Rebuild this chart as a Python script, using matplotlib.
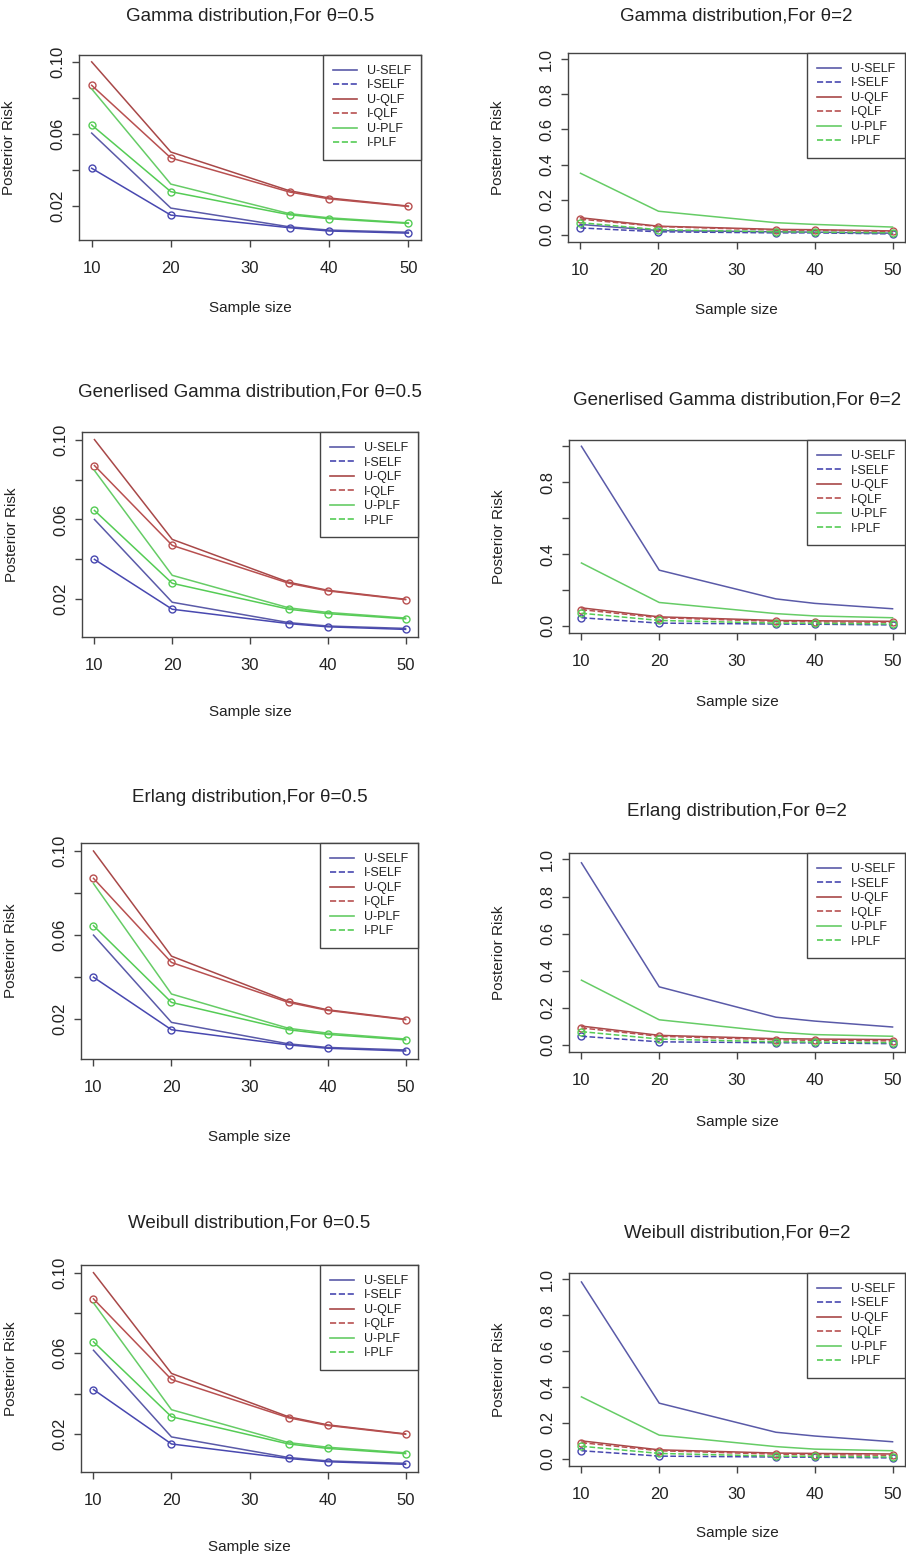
import matplotlib.pyplot as plt
from matplotlib.lines import Line2D

plt.rcParams['font.family'] = ['Liberation Sans', 'DejaVu Sans']

sample_size = [10, 20, 35, 40, 50]
series_labels = ["U-SELF", "I-SELF", "U-QLF", "I-QLF", "U-PLF", "I-PLF"]

# posterior risk, one row per series (same order as series_labels)
gamma_05 = [[0.0605, 0.0189, 0.0085, 0.0067, 0.0055],
            [0.0410, 0.0150, 0.0080, 0.0062, 0.0050],
            [0.1000, 0.0500, 0.0285, 0.0245, 0.0200],
            [0.0870, 0.0467, 0.0278, 0.0240, 0.0198],
            [0.0850, 0.0322, 0.0158, 0.0135, 0.0107],
            [0.0650, 0.0280, 0.0152, 0.0130, 0.0104]]
gamma_2 = [[0.060, 0.025, 0.018, 0.016, 0.010],
           [0.040, 0.018, 0.012, 0.012, 0.006],
           [0.098, 0.050, 0.032, 0.030, 0.023],
           [0.090, 0.048, 0.028, 0.027, 0.020],
           [0.351, 0.135, 0.070, 0.060, 0.045],
           [0.070, 0.030, 0.018, 0.016, 0.012]]
gengamma_05 = [[0.0600, 0.0185, 0.0083, 0.0066, 0.0054],
               [0.0400, 0.0150, 0.0078, 0.0062, 0.0049],
               [0.1000, 0.0500, 0.0285, 0.0245, 0.0200],
               [0.0870, 0.0470, 0.0280, 0.0242, 0.0198],
               [0.0845, 0.0320, 0.0157, 0.0134, 0.0106],
               [0.0645, 0.0280, 0.0150, 0.0128, 0.0102]]
gengamma_2 = [[1.000, 0.310, 0.150, 0.125, 0.095],
              [0.045, 0.015, 0.010, 0.009, 0.005],
              [0.100, 0.050, 0.030, 0.028, 0.025],
              [0.090, 0.045, 0.025, 0.022, 0.020],
              [0.350, 0.130, 0.068, 0.055, 0.045],
              [0.070, 0.030, 0.015, 0.014, 0.010]]
erlang_05 = [[0.0600, 0.0185, 0.0083, 0.0066, 0.0054],
             [0.0400, 0.0150, 0.0078, 0.0062, 0.0049],
             [0.1000, 0.0500, 0.0285, 0.0245, 0.0200],
             [0.0870, 0.0470, 0.0280, 0.0242, 0.0198],
             [0.0845, 0.0320, 0.0157, 0.0134, 0.0106],
             [0.0645, 0.0280, 0.0150, 0.0128, 0.0102]]
erlang_2 = [[0.982, 0.312, 0.148, 0.127, 0.095],
            [0.045, 0.015, 0.010, 0.009, 0.005],
            [0.100, 0.050, 0.032, 0.030, 0.027],
            [0.090, 0.045, 0.026, 0.023, 0.020],
            [0.348, 0.134, 0.068, 0.054, 0.045],
            [0.070, 0.030, 0.015, 0.014, 0.010]]
weibull_05 = [[0.0615, 0.0185, 0.0083, 0.0066, 0.0054],
              [0.0420, 0.0150, 0.0078, 0.0062, 0.0049],
              [0.1000, 0.0500, 0.0285, 0.0245, 0.0200],
              [0.0870, 0.0470, 0.0280, 0.0242, 0.0198],
              [0.0850, 0.0320, 0.0157, 0.0134, 0.0106],
              [0.0657, 0.0285, 0.0150, 0.0128, 0.0102]]
weibull_2 = [[0.985, 0.310, 0.148, 0.127, 0.095],
             [0.045, 0.015, 0.010, 0.009, 0.005],
             [0.100, 0.050, 0.032, 0.030, 0.027],
             [0.090, 0.045, 0.026, 0.023, 0.020],
             [0.345, 0.132, 0.068, 0.054, 0.045],
             [0.070, 0.030, 0.015, 0.014, 0.010]]

colors = ['#5a5aa8', '#4848b0', '#a84848', '#b85050', '#66cc66', '#55cc55']

W, H = 906, 1559
fig = plt.figure(figsize=(W / 100, H / 100), dpi=100)

# title, data, theta=2?, box in pixels (left, top, right, bottom), title y, xlabel y
panels = [
    ("Gamma distribution,For θ=0.5", gamma_05, False, (79, 55, 421, 240), 16, 308),
    ("Gamma distribution,For θ=2", gamma_2, True, (568, 53, 905, 242), 16, 310),
    ("Generlised Gamma distribution,For θ=0.5", gengamma_05, False, (82, 432, 418, 637), 392, 712),
    ("Generlised Gamma distribution,For θ=2", gengamma_2, True, (569, 440, 905, 633), 400, 702),
    ("Erlang distribution,For θ=0.5", erlang_05, False, (81, 843, 418, 1059), 797, 1137),
    ("Erlang distribution,For θ=2", erlang_2, True, (569, 853, 905, 1052), 812, 1122),
    ("Weibull distribution,For θ=0.5", weibull_05, False, (81, 1265, 418, 1472), 1223, 1547),
    ("Weibull distribution,For θ=2", weibull_2, True, (569, 1273, 905, 1466), 1233, 1533),
]

for title, data, big, (l, t, r, b), ty, xy in panels:
    ax = fig.add_axes([l / W, 1 - b / H, (r - l) / W, (b - t) / H])
    for i, vals in enumerate(data):
        if i % 2 == 0:
            ax.plot(sample_size, vals, color=colors[i], lw=1.1)
        else:
            ax.plot(sample_size, vals, color=colors[i], lw=1.1,
                    ls='--' if big else '-', marker='o', ms=5,
                    mfc='none', mew=1.0)

    ax.set_xlim(8.4, 51.6)
    ax.set_xticks([10, 20, 30, 40, 50])
    if big:
        ax.set_ylim(-0.04, 1.035)
        ticks = [0.0, 0.2, 0.4, 0.6, 0.8, 1.0]
        if "Generlised" in title:
            labels = ['0.0', '', '0.4', '', '0.8', '']
        else:
            labels = ['0.0', '0.2', '0.4', '0.6', '0.8', '1.0']
    else:
        ax.margins(x=0.04, y=0.04)
        ticks = [0.02, 0.04, 0.06, 0.08, 0.10]
        labels = ['0.02', '', '0.06', '', '0.10']
    ax.set_yticks(ticks)
    ax.set_yticklabels(labels)

    ax.tick_params(axis='both', direction='out', length=5, width=1,
                   color='#444444', labelcolor='#222222', labelsize=12)
    ax.tick_params(axis='x', pad=10)
    ax.tick_params(axis='y', pad=5, labelrotation=90)
    plt.setp(ax.get_yticklabels(), va='center')
    for s in ax.spines.values():
        s.set_color('#444444')
        s.set_linewidth(1)

    ax.set_ylabel('Posterior Risk', fontsize=11, color='#222222')
    ax.yaxis.set_label_coords(-63 / (r - l), 0.5)

    handles = [Line2D([0], [0], color=colors[i], lw=1.2,
                      ls='-' if i % 2 == 0 else '--')
               for i in range(6)]
    leg = ax.legend(handles, series_labels, loc='upper right',
                    bbox_to_anchor=(1, 1), borderaxespad=0, fontsize=9,
                    fancybox=False, framealpha=1, edgecolor='#444444',
                    handlelength=1.9, handletextpad=0.8, labelspacing=0.2,
                    borderpad=0.8)
    leg.get_frame().set_linewidth(1)
    for txt in leg.get_texts():
        txt.set_color('#222222')

    fig.text((l + r) / 2 / W, 1 - ty / H, title, ha='center', va='center',
             fontsize=13.5, color='#222222')
    fig.text((l + r) / 2 / W, 1 - xy / H, 'Sample size', ha='center',
             va='center', fontsize=11, color='#222222')

fig.savefig('out.png', dpi=100)
